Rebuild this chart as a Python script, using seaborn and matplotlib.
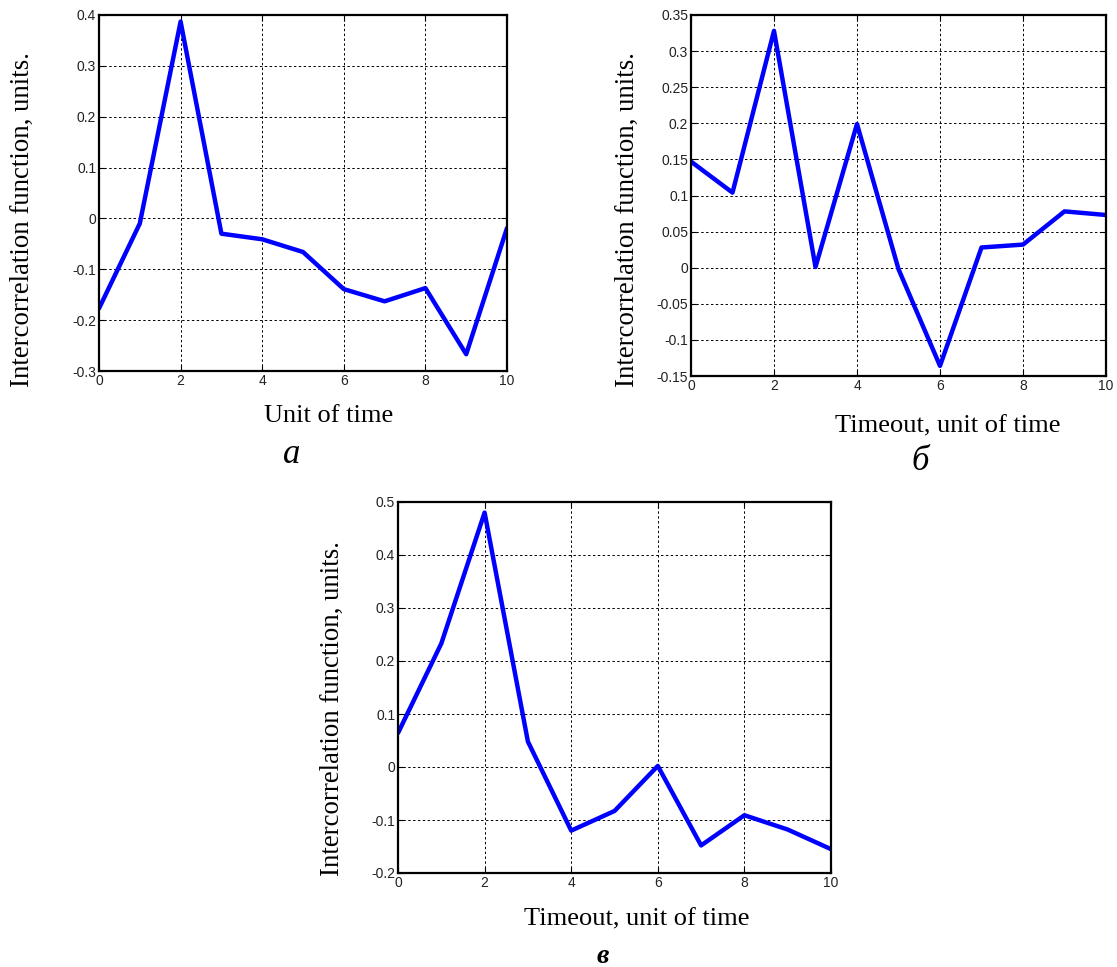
import numpy as np
import pandas as pd
import matplotlib
matplotlib.use("Agg")
import matplotlib.pyplot as plt
import seaborn as sns

# ---- data ----
lag = [0, 1, 2, 3, 4, 5, 6, 7, 8, 9, 10]
corr_a = [-0.177, -0.010, 0.387, -0.030, -0.041, -0.066, -0.139, -0.163, -0.137, -0.267, -0.019]
corr_b = [0.147, 0.104, 0.328, 0.001, 0.199, -0.002, -0.136, 0.028, 0.032, 0.078, 0.073]
corr_c = [0.064, 0.233, 0.480, 0.048, -0.120, -0.083, 0.002, -0.148, -0.091, -0.118, -0.155]

xticks = [0, 2, 4, 6, 8, 10]
yticks_a = [-0.3, -0.2, -0.1, 0, 0.1, 0.2, 0.3, 0.4]
yticks_b = [-0.15, -0.1, -0.05, 0, 0.05, 0.1, 0.15, 0.2, 0.25, 0.3, 0.35]
yticks_c = [-0.2, -0.1, 0, 0.1, 0.2, 0.3, 0.4, 0.5]
ytlabels_a = ["-0.3", "-0.2", "-0.1", "0", "0.1", "0.2", "0.3", "0.4"]
ytlabels_b = ["-0.15", "-0.1", "-0.05", "0", "0.05", "0.1", "0.15", "0.2", "0.25", "0.3", "0.35"]
ytlabels_c = ["-0.2", "-0.1", "0", "0.1", "0.2", "0.3", "0.4", "0.5"]

ylabel = "Intercorrelation function, units."
xlabel_a = "Unit of time"
xlabel_bc = "Timeout, unit of time"
panel_letters = ["а", "б", "в"]

sns.set_theme(style="white")
plt.rcParams["font.family"] = ["Liberation Sans", "DejaVu Sans"]

W, H = 1117, 967
fig = plt.figure(figsize=(W / 100, H / 100), dpi=100)

def px_rect(l, t, r, b):
    return [l / W, 1 - b / H, (r - l) / W, (b - t) / H]

specs = [
    dict(rect=px_rect(99, 15, 507, 371), y=corr_a, yt=yticks_a, ytl=ytlabels_a,
         ylim=(-0.3, 0.4), xl=xlabel_a, xl_pos=(329, 422), yl_pos=(22, 220),
         letter_pos=(292, 463), bold=False, lsize=25),
    dict(rect=px_rect(691, 15, 1106, 376), y=corr_b, yt=yticks_b, ytl=ytlabels_b,
         ylim=(-0.15, 0.35), xl=xlabel_bc, xl_pos=(948, 432), yl_pos=(627, 220),
         letter_pos=(920, 470), bold=False, lsize=25),
    dict(rect=px_rect(398, 502, 831, 873), y=corr_c, yt=yticks_c, ytl=ytlabels_c,
         ylim=(-0.2, 0.5), xl=xlabel_bc, xl_pos=(637, 925), yl_pos=(332, 709),
         letter_pos=(603, 963), bold=True, lsize=20),
]

serif = ["Liberation Serif", "DejaVu Serif"]

for spec, letter in zip(specs, panel_letters):
    ax = fig.add_axes(spec["rect"])
    df = pd.DataFrame({"lag": lag, "val": spec["y"]})
    sns.lineplot(data=df, x="lag", y="val", ax=ax, color="#0000ff", linewidth=3.2)
    ax.set_xlim(0, 10)
    ax.set_ylim(*spec["ylim"])
    ax.set_xticks(xticks)
    ax.set_xticklabels([str(v) for v in xticks])
    ax.set_yticks(spec["yt"])
    ax.set_yticklabels(spec["ytl"])
    ax.set_xlabel("")
    ax.set_ylabel("")
    ax.set_facecolor("white")
    ax.grid(True, color="black", linestyle=(0, (2.5, 2.5)), linewidth=0.7)
    for s in ax.spines.values():
        s.set_visible(True)
        s.set_color("black")
        s.set_linewidth(1.6)
    ax.tick_params(direction="in", length=4, width=0.8, color="black",
                   top=True, right=True, bottom=True, left=True,
                   labelsize=10, labelcolor="#222222", pad=2)
    # labels
    xx, yy = spec["xl_pos"]
    fig.text(xx / W, 1 - yy / H, spec["xl"], ha="center", va="baseline",
             family=serif, fontsize=19, color="black")
    xx, yy = spec["yl_pos"]
    fig.text(xx / W, 1 - yy / H, ylabel, ha="center", va="center", rotation=90,
             family=serif, fontsize=19.3, color="black")
    xx, yy = spec["letter_pos"]
    fig.text(xx / W, 1 - yy / H, letter, ha="center", va="baseline",
             family=serif, fontsize=spec["lsize"], style="italic",
             weight="bold" if spec["bold"] else "normal", color="black")

fig.savefig("out.png", dpi=100, facecolor="white")
